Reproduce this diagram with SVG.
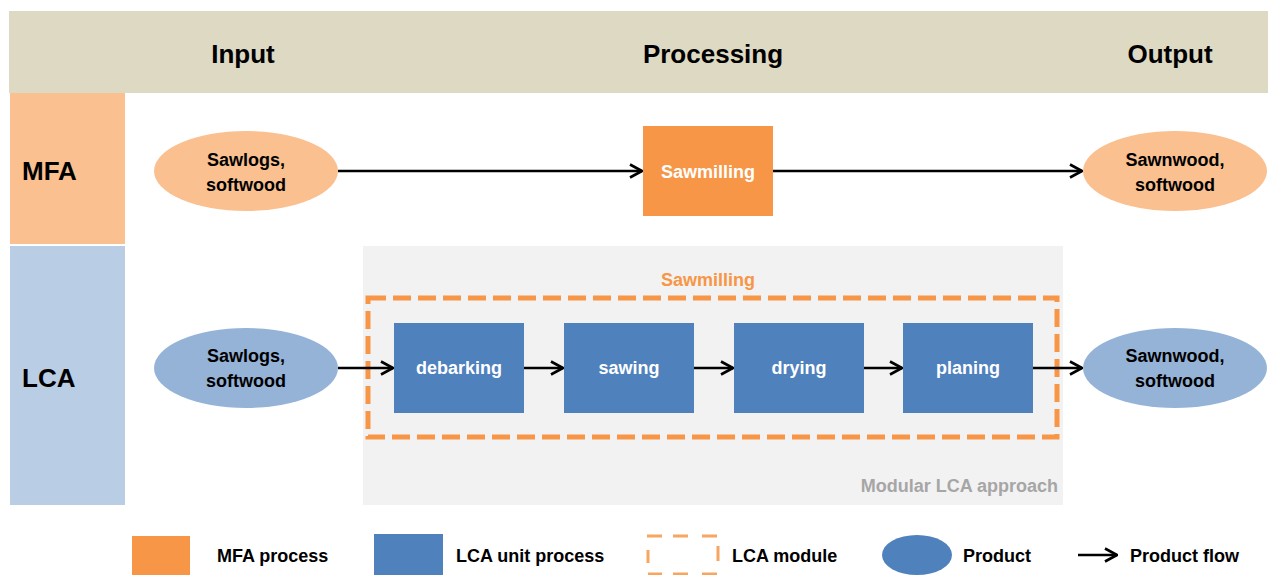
<svg xmlns="http://www.w3.org/2000/svg" width="1268" height="575" viewBox="0 0 1268 575">
<defs>
<marker id="arr" viewBox="0 0 14 16" refX="13" refY="8" markerWidth="14" markerHeight="16" markerUnits="userSpaceOnUse" orient="auto">
<path d="M1,1.5 L13,8 L1,14.5" fill="none" stroke="#000" stroke-width="2.6"/>
</marker>
<style>
text{font-family:"Liberation Sans",Arial,sans-serif;font-weight:bold;text-anchor:middle;}
.hdr{font-size:26px;fill:#000;}
.row{font-size:26px;fill:#000;text-anchor:start;}
.lbl{font-size:18px;fill:#000;}
.wlbl{font-size:18px;fill:#fff;}
.leg{font-size:18px;fill:#000;text-anchor:start;}
.flow{stroke:#000;stroke-width:2.4;fill:none;marker-end:url(#arr);}
.mfa{fill:#F79646;}
.lca{fill:#4F81BD;}
.mprod{fill:#FAC090;}
.lprod{fill:#95B3D7;}
.legdash{stroke:#F79646;stroke-width:3;opacity:0.85;}
</style>
</defs>
<rect width="1268" height="575" fill="#fff"/>
<g id="header">
<rect x="9" y="11" width="1259" height="82" fill="#DDD9C3"/>
<text class="hdr" x="243" y="63">Input</text>
<text class="hdr" x="713" y="63">Processing</text>
<text class="hdr" x="1170" y="63">Output</text>
</g>
<g id="row-mfa">
<rect x="10" y="93" width="115" height="151" fill="#FAC090"/>
<text class="row" x="22" y="180">MFA</text>
</g>
<g id="row-lca">
<rect x="10" y="246" width="115" height="259" fill="#B9CDE5"/>
<text class="row" x="22" y="387">LCA</text>
</g>
<g id="modular-area">
<rect x="363" y="246" width="700" height="259" fill="#F2F2F2"/>
<text x="1058" y="492" style="font-size:18px;fill:#A6A6A6;text-anchor:end">Modular LCA approach</text>
</g>
<g id="lca-module">
<text x="708" y="286" style="font-size:18px;fill:#F79646">Sawmilling</text>
<rect x="368" y="298" width="689" height="139" fill="none" stroke="#F79646" stroke-width="5" stroke-dasharray="18,7"/>
</g>
<g id="connectors">
<line class="flow" x1="338" y1="171" x2="642" y2="171"/>
<line class="flow" x1="773" y1="171" x2="1082" y2="171"/>
<line class="flow" x1="338" y1="368" x2="393" y2="368"/>
<line class="flow" x1="524" y1="368" x2="563" y2="368"/>
<line class="flow" x1="694" y1="368" x2="733" y2="368"/>
<line class="flow" x1="863" y1="368" x2="902" y2="368"/>
<line class="flow" x1="1033" y1="368" x2="1082" y2="368"/>
</g>
<g id="mfa-input">
<ellipse class="mprod" cx="246" cy="171" rx="92" ry="40"/>
<text class="lbl" x="246" y="166">Sawlogs,</text>
<text class="lbl" x="246" y="191">softwood</text>
</g>
<g id="mfa-sawmilling">
<rect class="mfa" x="643" y="126" width="130" height="90"/>
<text class="wlbl" x="708" y="178">Sawmilling</text>
</g>
<g id="mfa-output">
<ellipse class="mprod" cx="1175" cy="171" rx="92" ry="40"/>
<text class="lbl" x="1175" y="166">Sawnwood,</text>
<text class="lbl" x="1175" y="191">softwood</text>
</g>
<g id="lca-input">
<ellipse class="lprod" cx="246" cy="368" rx="92" ry="40"/>
<text class="lbl" x="246" y="362">Sawlogs,</text>
<text class="lbl" x="246" y="387">softwood</text>
</g>
<g id="debarking">
<rect class="lca" x="394" y="323" width="130" height="90"/>
<text class="wlbl" x="459" y="374">debarking</text>
</g>
<g id="sawing">
<rect class="lca" x="564" y="323" width="130" height="90"/>
<text class="wlbl" x="629" y="374">sawing</text>
</g>
<g id="drying">
<rect class="lca" x="734" y="323" width="130" height="90"/>
<text class="wlbl" x="799" y="374">drying</text>
</g>
<g id="planing">
<rect class="lca" x="903" y="323" width="130" height="90"/>
<text class="wlbl" x="968" y="374">planing</text>
</g>
<g id="lca-output">
<ellipse class="lprod" cx="1175" cy="368" rx="92" ry="40"/>
<text class="lbl" x="1175" y="362">Sawnwood,</text>
<text class="lbl" x="1175" y="387">softwood</text>
</g>
<g id="legend">
<rect class="mfa" x="132" y="536" width="58" height="42"/>
<text class="leg" x="217" y="562">MFA process</text>
<rect class="lca" x="374" y="534" width="69" height="44"/>
<text class="leg" x="456" y="562">LCA unit process</text>
<g class="legdash">
<line x1="647" y1="536" x2="662" y2="536"/>
<line x1="673" y1="536" x2="688" y2="536"/>
<line x1="702" y1="536" x2="717" y2="536"/>
<line x1="648" y1="550" x2="648" y2="563"/>
<line x1="718" y1="546" x2="718" y2="561"/>
<line x1="648" y1="574" x2="662" y2="574"/>
<line x1="673" y1="574" x2="688" y2="574"/>
<line x1="702" y1="574" x2="717" y2="574"/>
</g>
<text class="leg" x="732" y="562">LCA module</text>
<ellipse class="lca" cx="917" cy="555" rx="35" ry="20"/>
<text class="leg" x="963" y="562">Product</text>
<line class="flow" x1="1078" y1="555" x2="1117" y2="555"/>
<text class="leg" x="1130" y="562">Product flow</text>
</g>
</svg>
